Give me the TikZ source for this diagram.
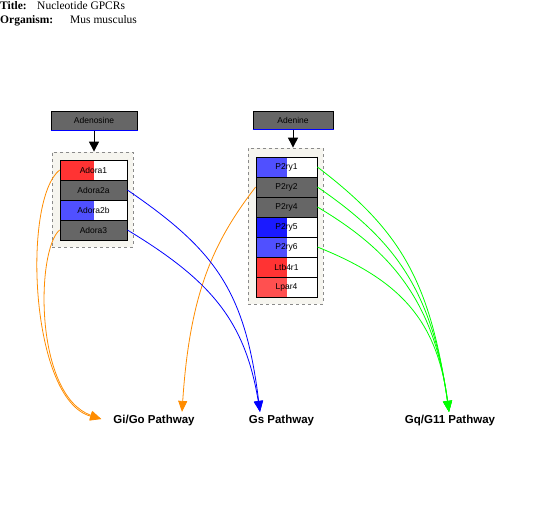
\documentclass[tikz,border=0pt]{standalone}
\usepackage{fontspec}
\setmainfont{Liberation Serif}
\newfontfamily\arialf{Liberation Sans}
\usetikzlibrary{arrows.meta}
\definecolor{molgray}{HTML}{666666}
\definecolor{grpfill}{HTML}{F6F5EF}
\definecolor{grpline}{HTML}{8A8A8A}
\definecolor{cred}{HTML}{FF3333}
\definecolor{cred2}{HTML}{FF5050}
\definecolor{cblue}{HTML}{5050FF}
\definecolor{cblue2}{HTML}{1A1AFF}
\definecolor{corange}{HTML}{FF8C00}
\definecolor{cgreen}{HTML}{00FF00}
\definecolor{cbl}{HTML}{0000FF}
\begin{document}
\begin{tikzpicture}[x=1pt,y=-1pt,
  ttl/.style={anchor=base west,inner sep=0pt,font=\fontsize{11.5}{12}\selectfont},
  mol/.style={draw=black,line width=1pt,fill=molgray,inner sep=0pt,font=\arialf\fontsize{8.5}{9}\selectfont},
  grp/.style={draw=grpline,dashed,line width=0.8pt,fill=grpfill,inner sep=0pt},
  gene/.style={draw=black,line width=0.8pt,fill=white,inner sep=0pt,minimum height=20pt,font=\arialf\fontsize{8.5}{9}\selectfont},
  half/.style={path picture={\fill[#1] (path picture bounding box.south west) rectangle (path picture bounding box.north);}},
  grey/.style={fill=molgray},
  pathw/.style={inner sep=0pt,font=\arialf\bfseries\fontsize{11.5}{13}\selectfont},
  tip/.style={-{Triangle[width=9pt,length=11pt]}},
  conn/.style={tip,line width=0.8pt},
]
\useasboundingbox (0,0) rectangle (545,516);
% title
\node[ttl] (tl) at (0,10) {\bfseries Title:};
\node[ttl] (tv) at (37,10) {Nucleotide GPCRs};
\node[ttl] (ol) at (0,24) {\bfseries Organism:};
\node[ttl] (ov) at (70,24) {Mus musculus};
% groups
\node[grp,minimum width=81pt,minimum height=95pt] (g1) at (92.5,199.5) {};
\node[grp,minimum width=75pt,minimum height=156pt] (g2) at (285.5,226) {};
% molecules
\node[mol,minimum width=86pt,minimum height=19pt] (adenosine) at (94,120.5) {Adenosine};
\draw[cbl,line width=0.8pt] (adenosine.south west) -- (adenosine.south east);
\node[mol,minimum width=80pt,minimum height=18pt] (adenine) at (293,120) {Adenine};
\draw[cbl,line width=0.8pt] (adenine.south west) -- (adenine.south east);
\draw[-{Triangle[width=10pt,length=10pt]},line width=1pt] (adenosine.south) -- (adenosine.south |- g1.north);
\draw[-{Triangle[width=10pt,length=10pt]},line width=1pt] (adenine.south) -- (adenine.south |- g2.north);
% genes group 1
\begin{scope}[every node/.append style={gene,minimum width=67pt}]
\node[half=cred] (a1) at (93.5,170) {Adora1};
\node[grey] (a2) at (93.5,190) {Adora2a};
\node[half=cblue] (a3) at (93.5,210) {Adora2b};
\node[grey] (a4) at (93.5,230) {Adora3};
\end{scope}
\draw[line width=1.6pt] (a1.north east) -- (a4.south east) -- (a4.south west);
% genes group 2
\begin{scope}[every node/.append style={gene,minimum width=61pt}]
\node[half=cblue] (p1) at (286.5,167) {P2ry1};
\node[grey] (p2) at (286.5,187) {P2ry2};
\node[grey] (p4) at (286.5,207) {P2ry4};
\node[half=cblue2] (p5) at (286.5,227) {P2ry5};
\node[half=cblue] (p6) at (286.5,247) {P2ry6};
\node[half=cred] (l1) at (286.5,267) {Ltb4r1};
\node[half=cred2] (l2) at (286.5,287) {Lpar4};
\end{scope}
\draw[line width=1.6pt] (p1.north east) -- (l2.south east) -- (l2.south west);
% pathways
\node[pathw] (gigo) at (154,421) {Gi/Go Pathway};
\node[pathw] (gs) at (281.5,421) {Gs Pathway};
\node[pathw] (gq) at (450,421) {Gq/G11 Pathway};
\coordinate (gigoL) at ([xshift=-12pt,yshift=2pt]gigo.west);
\coordinate (gigoT) at ([xshift=28pt,yshift=3.5pt]gigo.north);
\coordinate (gsT) at ([xshift=-21.5pt,yshift=3.5pt]gs.north);
\coordinate (gqT) at ([xshift=-1pt,yshift=3.5pt]gq.north);
% connectors
\draw[conn,corange] (a1.west) .. controls (22,200) and (30,400) .. (gigoL);
\draw[conn,corange] (a4.west) .. controls (36,250) and (34,395) .. (gigoL);
\draw[conn,corange] (p2.west) .. controls (215,240) and (190,290) .. (gigoT);
\draw[conn,cbl] (a2.east) .. controls (215,250) and (245,290) .. (gsT);
\draw[conn,cbl] (a4.east) .. controls (210,280) and (245,320) .. (gsT);
\draw[conn,cgreen] (p1.east) .. controls (400,230) and (430,280) .. (gqT);
\draw[conn,cgreen] (p2.east) .. controls (395,240) and (432,290) .. (gqT);
\draw[conn,cgreen] (p4.east) .. controls (390,250) and (434,300) .. (gqT);
\draw[conn,cgreen] (p6.east) .. controls (400,280) and (437,320) .. (gqT);
\end{tikzpicture}
\end{document}
